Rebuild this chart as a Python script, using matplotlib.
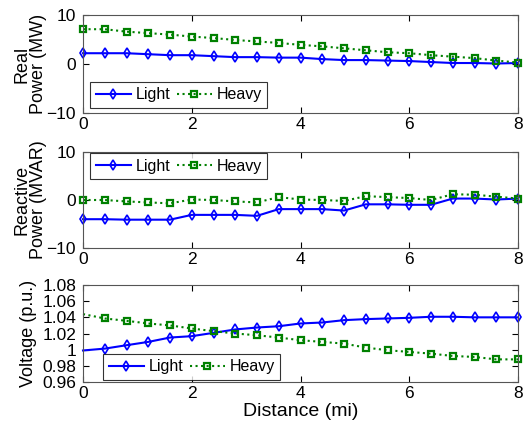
import matplotlib
matplotlib.use("Agg")
import matplotlib.pyplot as plt
import numpy as np

plt.rcParams['font.family'] = ['Liberation Sans', 'DejaVu Sans']

distance = [0, 0.4, 0.8, 1.2, 1.6, 2.0, 2.4, 2.8, 3.2, 3.6, 4.0, 4.4, 4.8,
            5.2, 5.6, 6.0, 6.4, 6.8, 7.2, 7.6, 8.0]

real_light = [2.2, 2.2, 2.2, 2.0, 1.8, 1.8, 1.6, 1.4, 1.4, 1.3, 1.3, 1.0, 0.8,
              0.8, 0.7, 0.6, 0.4, 0.2, 0.2, 0.1, 0.2]
real_heavy = [7.1, 7.1, 6.6, 6.3, 6.0, 5.6, 5.3, 4.9, 4.6, 4.3, 3.9, 3.6, 3.2,
              2.8, 2.4, 2.2, 1.8, 1.5, 1.2, 0.7, 0.3]

react_light = [-4.0, -4.0, -4.1, -4.1, -4.1, -3.1, -3.1, -3.1, -3.3, -1.9, -1.9,
               -1.9, -2.2, -0.9, -0.9, -1.0, -1.0, 0.3, 0.3, 0.1, 0.3]
react_heavy = [0.0, 0.0, -0.3, -0.5, -0.7, 0.1, 0.0, -0.3, -0.5, 0.6, 0.1, 0.0,
               -0.2, 0.8, 0.6, 0.4, 0.0, 1.2, 1.1, 0.7, 0.3]

volt_light = [0.999, 1.0013, 1.0055, 1.0096, 1.015, 1.0167, 1.0208, 1.025, 1.0274,
              1.029, 1.0324, 1.0336, 1.0365, 1.0378, 1.0386, 1.0394, 1.0407,
              1.0407, 1.040, 1.040, 1.040]
volt_heavy = [1.044, 1.0386, 1.0357, 1.0324, 1.030, 1.0262, 1.0229, 1.020, 1.0178,
              1.015, 1.0117, 1.0096, 1.0075, 1.0026, 0.9993, 0.9972, 0.9951,
              0.9922, 0.991, 0.988, 0.988]

ylabels = ["Real\nPower (MW)", "Reactive\nPower (MVAR)", "Voltage (p.u.)"]
xticks = [0, 2, 4, 6, 8]

fig = plt.figure(figsize=(5.23, 4.29), dpi=100)
W, H = 523, 429
boxes = [(83, 15, 518, 113), (83, 152, 518, 248), (83, 285, 518, 382)]
axes = []
for (x0, y0, x1, y1) in boxes:
    axes.append(fig.add_axes([x0 / W, 1 - y1 / H, (x1 - x0) / W, (y1 - y0) / H]))

blue = (0, 0, 1)
green = (0, 0.5, 0)

def draw(ax, yl, yh, every):
    ax.plot(distance, yl, color=blue, lw=1.5, marker='d', ms=5.5, mfc='none',
            mec=blue, mew=1.2, label='Light', markevery=every, clip_on=False)
    ax.plot(distance, yh, color=green, lw=1.5, ls=':', marker='s', ms=5,
            mfc='none', mec=green, mew=1.6, label='Heavy', markevery=every,
            clip_on=False)

draw(axes[0], real_light, real_heavy, None)
draw(axes[1], react_light, react_heavy, None)
draw(axes[2], volt_light, volt_heavy, slice(1, None))

axes[0].set_ylim(-10, 10)
axes[0].set_yticks([-10, 0, 10])
axes[1].set_ylim(-10, 10)
axes[1].set_yticks([-10, 0, 10])
axes[2].set_ylim(0.96, 1.08)
axes[2].set_yticks([0.96, 0.98, 1.0, 1.02, 1.04, 1.06, 1.08])
axes[2].set_yticklabels(['0.96', '0.98', '1', '1.02', '1.04', '1.06', '1.08'])

legend_locs = [(90, 108, 'lower left'), (90, 153, 'upper left'), (103, 380, 'lower left')]
label_x = [-0.082, -0.082, -0.106]
for i, ax in enumerate(axes):
    ax.set_xlim(0, 8)
    ax.set_xticks(xticks)
    ax.tick_params(direction='in', length=4, width=0.8, labelsize=12.5,
                   top=True, right=True, colors='black')
    ax.tick_params(axis='y', pad=5)
    ax.tick_params(axis='x', pad=3)
    for s in ax.spines.values():
        s.set_color('#555555')
        s.set_linewidth(0.8)
    ax.set_ylabel(ylabels[i], fontsize=13, linespacing=1.0)
    ax.yaxis.set_label_coords(label_x[i], 0.5)
    lx, ly, loc = legend_locs[i]
    (x0, y0, x1, y1) = boxes[i]
    ax_x = (lx - x0) / (x1 - x0)
    ax_y = 1 - (ly - y0) / (y1 - y0)
    leg = ax.legend(loc=loc, bbox_to_anchor=(ax_x, ax_y), ncol=2, fontsize=11.5,
                    frameon=True, fancybox=False, borderaxespad=0,
                    handlelength=2.2, handletextpad=0.3, columnspacing=0.4,
                    borderpad=0.35, edgecolor='black')
    leg.get_frame().set_linewidth(0.8)

axes[2].set_xlabel("Distance (mi)", fontsize=14, labelpad=1)

fig.savefig("out.png", dpi=100)
